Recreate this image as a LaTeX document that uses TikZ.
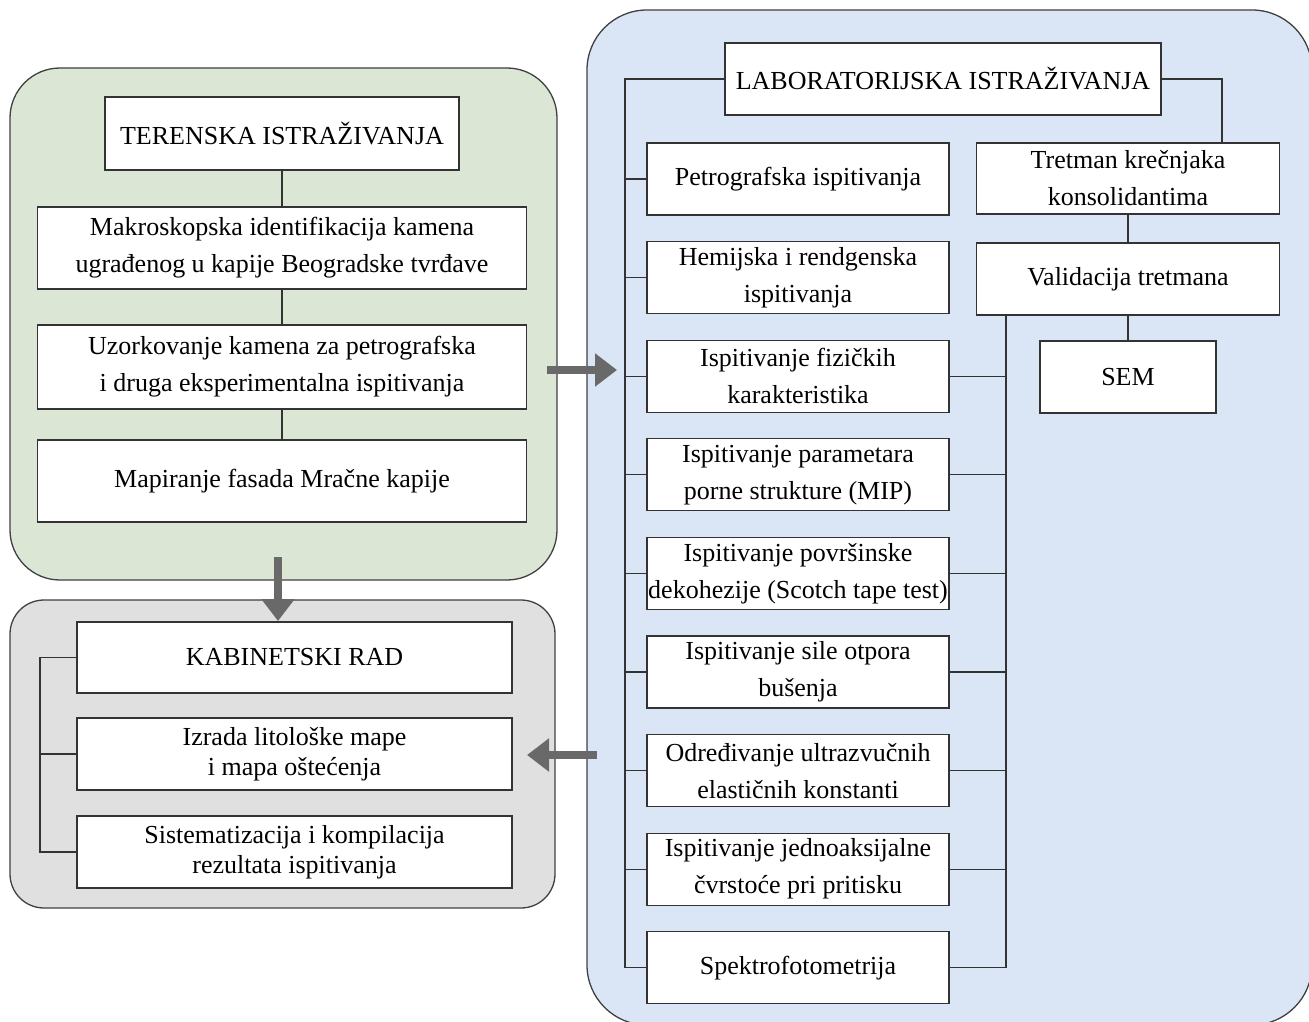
\documentclass[tikz,border=0pt]{standalone}
\usepackage{fontspec}
\setmainfont{Liberation Serif}
\usetikzlibrary{arrows.meta}
\usetikzlibrary{positioning}
\definecolor{fieldgreen}{RGB}{220,230,212}
\definecolor{deskgray}{RGB}{224,224,224}
\definecolor{labblue}{RGB}{218,230,246}
\definecolor{flowgray}{RGB}{105,105,105}
\tikzset{
  panel/.style = {draw = black!75, line width = 1.3pt},
  box/.style = {draw = black!80, fill = white, line width = 1.2pt, align = center,
    inner sep = 0pt, font = \fontsize{26}{37}\selectfont},
  tight/.style = {font = \fontsize{26}{30}\selectfont},
  link/.style = {draw = black!80, line width = 1.2pt},
  flow/.style = {draw = flowgray, line width = 8pt, -{Triangle[length = 22pt, width = 32pt]}}
}

\begin{document}
\begin{tikzpicture}[x = 1pt, y = -1pt]
  \useasboundingbox (0, 0) rectangle (1309, 1022);
  % panels
  \node [panel, fill = fieldgreen, rounded corners = 50pt, minimum width = 547pt,
    minimum height = 512pt] (field) at (283.5, 324) {};
  \node [panel, fill = deskgray, rounded corners = 34pt, minimum width = 545pt,
    minimum height = 308pt] (desk) at (282.5, 754) {};
  \node [panel, fill = labblue, rounded corners = 60pt, minimum width = 725pt,
    minimum height = 1015pt] (lab panel) at (949.5, 517.5) {};

  % field work
  \node [box, minimum width = 354pt, minimum height = 73pt] (field head) at (282, 133.5)
    {TERENSKA ISTRAŽIVANJA};
  \node [box, minimum width = 489pt, minimum height = 82pt] (macro) at (282, 248)
    {Makroskopska identifikacija kamena\\ugrađenog u kapije Beogradske tvrđave};
  \node [box, minimum width = 489pt, minimum height = 84pt] (sampling) at (282, 367)
    {Uzorkovanje kamena za petrografska\\i druga eksperimentalna ispitivanja};
  \node [box, minimum width = 489pt, minimum height = 82pt] (mapping) at (282, 481)
    {Mapiranje fasada Mračne kapije};
  \draw [link] (field head) -- (macro);
  \draw [link] (macro) -- (sampling);
  \draw [link] (sampling) -- (mapping);

  % desk work
  \node [box, minimum width = 435pt, minimum height = 71pt] (desk head) at (294.5, 657.5)
    {KABINETSKI RAD};
  \node [box, tight, minimum width = 435pt, minimum height = 72pt] (maps) at (294.5, 754)
    {Izrada litološke mape\\i mapa oštećenja};
  \node [box, tight, minimum width = 435pt, minimum height = 72pt] (compile) at (294.5, 852)
    {Sistematizacija i kompilacija\\rezultata ispitivanja};
  \coordinate (desk rail) at (40, 657.5);
  \draw [link] (desk head.west) -- (desk rail) |- (compile.west);
  \draw [link] (maps.west) -- (maps.west -| desk rail);

  % laboratory work
  \node [box, minimum width = 436pt, minimum height = 72pt] (lab head) at (943, 79)
    {LABORATORIJSKA ISTRAŽIVANJA};
  \foreach \txt [count = \n] in {Petrografska ispitivanja,
      Hemijska i rendgenska\\ispitivanja,
      Ispitivanje fizičkih\\karakteristika,
      Ispitivanje parametara\\porne strukture (MIP),
      Ispitivanje površinske\\dekohezije (Scotch tape test),
      Ispitivanje sile otpora\\bušenja,
      Određivanje ultrazvučnih\\elastičnih konstanti,
      Ispitivanje jednoaksijalne\\čvrstoće pri pritisku,
      Spektrofotometrija} {
    \node [box, minimum width = 302pt, minimum height = 72pt] (t\n)
      at (798, {179 + (\n - 1) * 98.6}) {\txt};
  }
  \node [box, minimum width = 303pt, minimum height = 71pt] (treat) at (1128, 178.5)
    {Tretman krečnjaka\\konsolidantima};
  \node [box, minimum width = 303pt, minimum height = 72pt] (valid) at (1128, 279)
    {Validacija tretmana};
  \node [box, minimum width = 176pt, minimum height = 72pt] (sem) at (1128, 377) {SEM};
  \draw [link] (treat) -- (valid);
  \draw [link] (valid) -- (sem);

  \coordinate (left rail) at (625, 79);
  \coordinate (right rail) at (1006, 315);
  \coordinate (treat rail) at (1222, 79);
  \draw [link] (lab head.west) -- (left rail) |- (t9.west);
  \draw [link] (lab head.east) -- (treat rail) -- (treat rail |- treat.north);
  \draw [link] (right rail) |- (t9.east);
  \foreach \n in {1, ..., 8}
    \draw [link] (t\n.west) -- (t\n.west -| left rail);
  \foreach \n in {3, ..., 8}
    \draw [link] (t\n.east) -- (t\n.east -| right rail);

  % flow between panels
  \coordinate (down from) at (278, 557);
  \coordinate (down to) at (278, 621);
  \coordinate (in from) at (547, 370);
  \coordinate (in to) at (617, 370);
  \coordinate (back from) at (597, 755);
  \coordinate (back to) at (527, 755);
  \draw [flow] (down from) -- (down to);
  \draw [flow] (in from) -- (in to);
  \draw [flow] (back from) -- (back to);
\end{tikzpicture}
\end{document}
